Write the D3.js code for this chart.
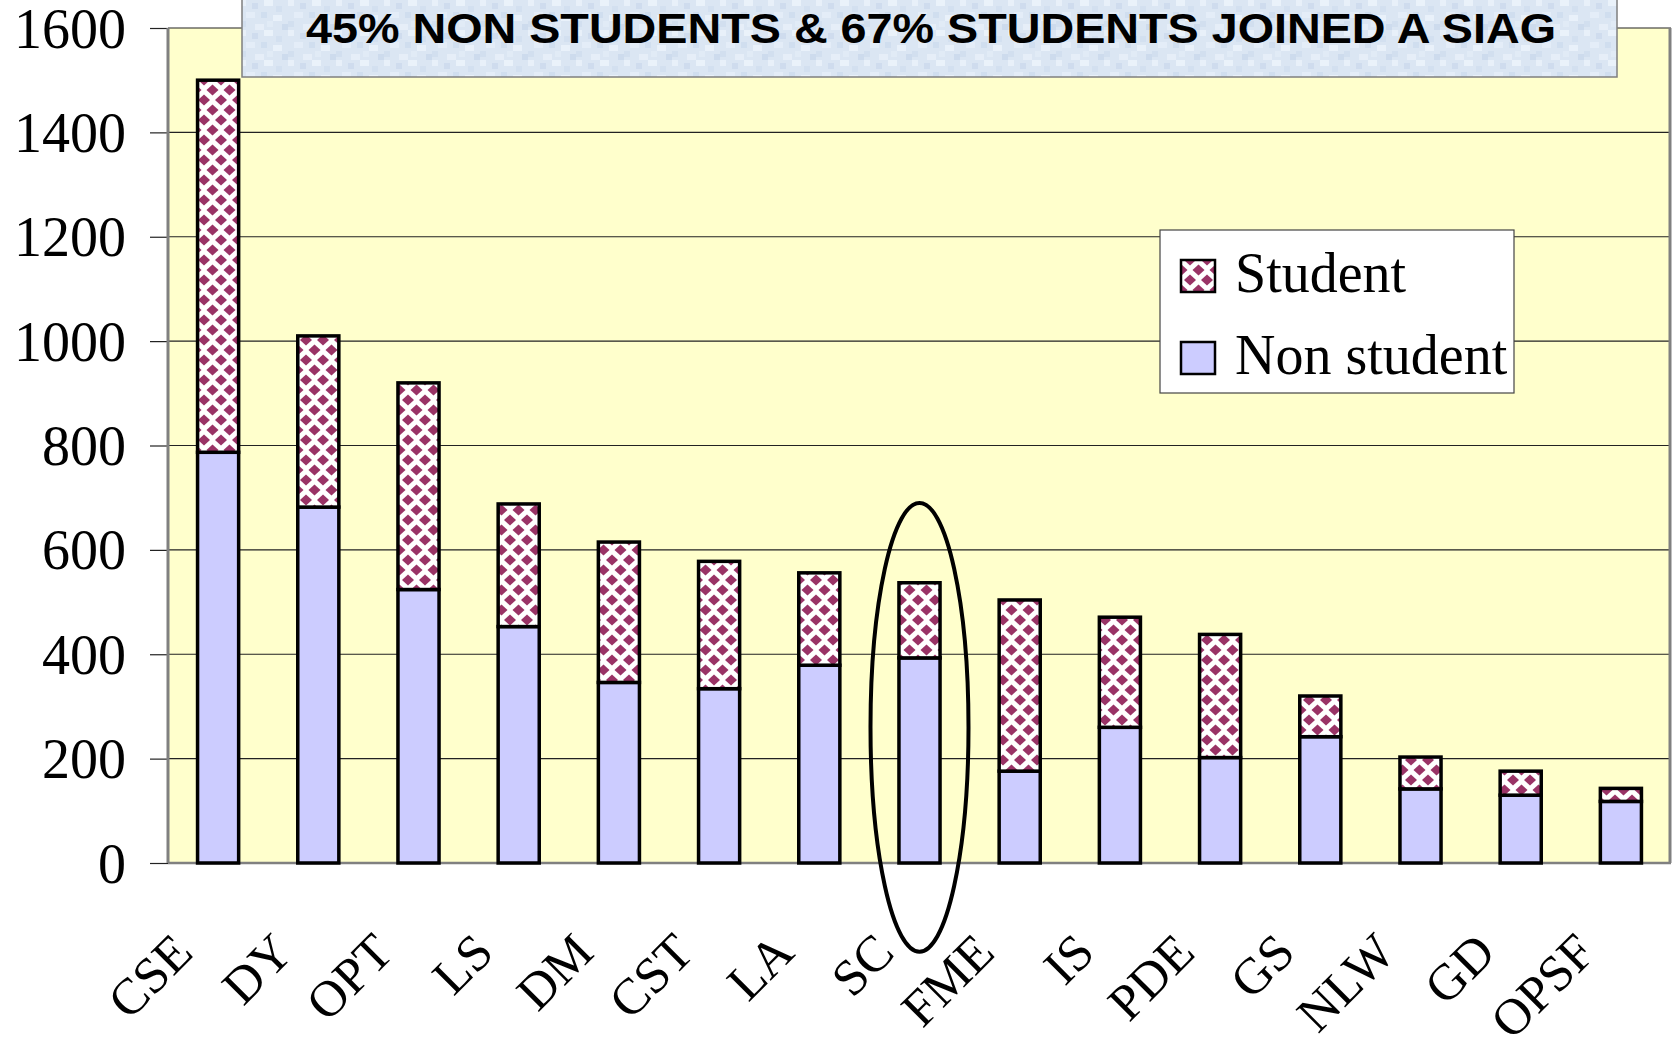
<!DOCTYPE html>
<html>
<head>
<meta charset="utf-8">
<script src="https://cdn.jsdelivr.net/npm/d3@7"></script>
<style>
  html, body { margin: 0; padding: 0; background: #ffffff; }
  svg { display: block; }
</style>
</head>
<body>
<svg id="chart" width="1677" height="1042"></svg>
<script>
const categories = ["CSE","DY","OPT","LS","DM","CST","LA","SC","FME","IS","PDE","GS","NLW","GD","OPSF"];
const nonStudent = [787, 682, 524, 453, 346, 334, 379, 393, 176, 260, 202, 242, 142, 130, 118];
const student    = [713, 328, 396, 235, 269, 244, 177, 144, 328, 211, 236, 78, 61, 46, 25];
const yTicks = [0, 200, 400, 600, 800, 1000, 1200, 1400, 1600];
const seriesNames = ["Student", "Non student"];
const titleText = "45% NON STUDENTS & 67% STUDENTS JOINED A SIAG";
const highlighted = "SC";

const svg = d3.select("#chart");
const plot = { left: 168, right: 1671, top: 28, bottom: 863 };
const serif = "'Liberation Serif', 'Times New Roman', serif";

const defs = svg.append("defs");
// diamond pattern for Student
const PW = 17, PH = 20;
const pat = defs.append("pattern").attr("id", "diam")
  .attr("patternUnits", "userSpaceOnUse").attr("width", PW).attr("height", PH);
pat.append("rect").attr("width", PW).attr("height", PH).attr("fill", "#ffffff");
[[0,0],[PW,0],[0,PH],[PW,PH],[PW/2,PH/2]].forEach(([cx, cy]) => {
  const rx = 6, ry = 5.6;
  pat.append("path").attr("d", `M${cx},${cy-ry}L${cx+rx},${cy}L${cx},${cy+ry}L${cx-rx},${cy}Z`).attr("fill", "#993366");
});
// mottled texture for title box
const tex = defs.append("pattern").attr("id", "tex")
  .attr("patternUnits", "userSpaceOnUse").attr("width", 48).attr("height", 30);
tex.append("rect").attr("width", 48).attr("height", 30).attr("fill", "#dbe6f3");
const blocks = [[0,0,6,6,"#e8f0f9"],[12,3,6,6,"#cfdcee"],[24,0,9,6,"#eaf2fa"],[36,6,6,6,"#d3e0f0"],
  [6,12,9,6,"#e4edf8"],[21,12,6,6,"#d0deef"],[33,15,9,6,"#e9f1fa"],[0,21,6,6,"#d2dfef"],
  [15,24,9,6,"#e6eef8"],[42,24,6,6,"#cddbed"],[27,21,6,6,"#e1ebf6"]];
blocks.forEach(([bx,by,bw,bh,c]) => tex.append("rect").attr("x",bx).attr("y",by).attr("width",bw).attr("height",bh).attr("fill",c));

const x = d3.scaleBand().domain(categories).range([plot.left, plot.right]).paddingInner(0.59).paddingOuter(0.295);
const y = d3.scaleLinear().domain([0, 1600]).range([plot.bottom, plot.top]);

// plot background
svg.append("rect").attr("x", plot.left).attr("y", plot.top)
  .attr("width", plot.right - plot.left).attr("height", plot.bottom - plot.top)
  .attr("fill", "#ffffcc");

// gridlines
svg.append("g").selectAll("line").data(yTicks.filter(d => d > 0)).join("line")
  .attr("x1", plot.left).attr("x2", plot.right)
  .attr("y1", d => y(d)).attr("y2", d => y(d))
  .attr("stroke", "#222").attr("stroke-width", 1.2);

// y axis
const yAxis = d3.axisLeft(y).tickValues(yTicks).tickSize(18).tickPadding(24).tickFormat(d3.format("d"));
const gy = svg.append("g").attr("transform", `translate(${plot.left},0)`).call(yAxis);
gy.select(".domain").remove();
gy.selectAll(".tick line").attr("stroke", "#222").attr("stroke-width", 1.2);
gy.selectAll(".tick text").attr("font-family", serif).attr("font-size", 56).attr("fill", "#000").attr("dy", "0.34em");

// plot borders
svg.append("line").attr("x1", plot.left).attr("x2", plot.left).attr("y1", plot.top).attr("y2", plot.bottom)
  .attr("stroke", "#808080").attr("stroke-width", 3);
svg.append("line").attr("x1", plot.right - 1).attr("x2", plot.right - 1).attr("y1", plot.top).attr("y2", plot.bottom)
  .attr("stroke", "#808080").attr("stroke-width", 3);
svg.append("line").attr("x1", plot.left).attr("x2", plot.right).attr("y1", plot.bottom).attr("y2", plot.bottom)
  .attr("stroke", "#808080").attr("stroke-width", 2.5);

// bars
const data = categories.map((c, i) => ({ c, ns: nonStudent[i], st: student[i] }));
const gb = svg.append("g");
gb.selectAll("rect.ns").data(data).join("rect").attr("class", "ns")
  .attr("x", d => x(d.c)).attr("width", x.bandwidth())
  .attr("y", d => y(d.ns)).attr("height", d => y(0) - y(d.ns))
  .attr("fill", "#ccccff").attr("stroke", "#000").attr("stroke-width", 3.5);
gb.selectAll("rect.st").data(data).join("rect").attr("class", "st")
  .attr("x", d => x(d.c)).attr("width", x.bandwidth())
  .attr("y", d => y(d.ns + d.st)).attr("height", d => y(d.ns) - y(d.ns + d.st))
  .attr("fill", "url(#diam)").attr("stroke", "#000").attr("stroke-width", 3.5);

// x labels
svg.append("g").selectAll("text").data(categories).join("text")
  .attr("transform", d => `translate(${x(d) + x.bandwidth() / 2 - 23},${plot.bottom + 92}) rotate(-45)`)
  .attr("text-anchor", "end")
  .attr("font-family", serif).attr("font-size", 51).attr("fill", "#000")
  .text(d => d);

// highlight ellipse
svg.append("ellipse")
  .attr("cx", x(highlighted) + x.bandwidth() / 2)
  .attr("cy", (y(690) + y(-170)) / 2)
  .attr("rx", 49).attr("ry", (y(-170) - y(690)) / 2)
  .attr("fill", "none").attr("stroke", "#000").attr("stroke-width", 4);

// title box
svg.append("rect").attr("x", 242).attr("y", -5).attr("width", 1375).attr("height", 82)
  .attr("fill", "url(#tex)").attr("stroke", "#7f7f7f").attr("stroke-width", 1.5);
svg.append("text").attr("x", 931).attr("y", 43).attr("text-anchor", "middle")
  .attr("font-family", "'Liberation Sans', Arial, sans-serif").attr("font-weight", "bold")
  .attr("font-size", 42).attr("textLength", 1250).attr("lengthAdjust", "spacingAndGlyphs")
  .attr("fill", "#000").text(titleText);

// legend
const lg = svg.append("g");
lg.append("rect").attr("x", 1160).attr("y", 230).attr("width", 354).attr("height", 163)
  .attr("fill", "#ffffff").attr("stroke", "#444").attr("stroke-width", 1.2);
const legendFills = ["url(#diam)", "#ccccff"];
const legendY = [260, 342];
seriesNames.forEach((name, i) => {
  lg.append("rect").attr("x", 1181).attr("y", legendY[i]).attr("width", 34).attr("height", 32)
    .attr("fill", legendFills[i]).attr("stroke", "#000").attr("stroke-width", 2.5);
  lg.append("text").attr("x", 1235).attr("y", legendY[i] + 32)
    .attr("font-family", serif).attr("font-size", 56).attr("fill", "#000").text(name);
});
</script>
</body>
</html>
